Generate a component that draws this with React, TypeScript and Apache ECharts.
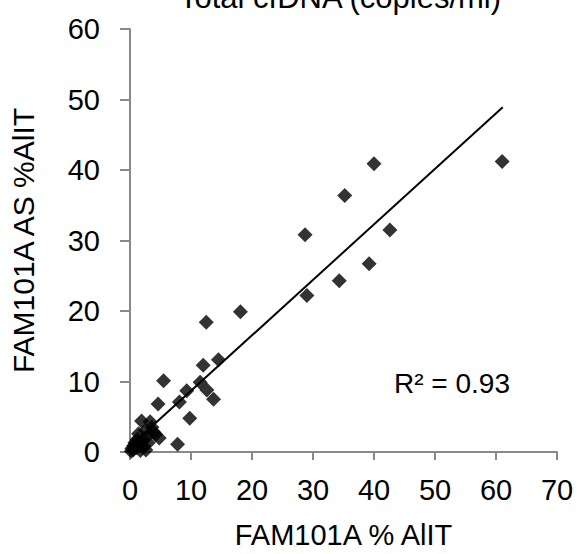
import React, { useEffect, useRef } from "react";
import * as echarts from "echarts";

const xValues = [
  61.0, 40.0, 35.2, 28.7, 42.6, 39.2, 34.3, 29.0, 18.1, 12.5,
  14.5, 12.0, 5.5, 11.5, 12.6, 13.7, 9.3, 8.1, 4.6, 9.8, 7.8, 4.2, 4.8,
  1.9, 3.3, 2.5, 3.6, 2.8, 2.0, 1.5, 1.0, 0.5, 0.2, 1.2, 2.2, 3.0, 0.8, 0.3, 1.7,
  0.6, 1.4, 2.6, 3.8,
];
const yValues = [
  41.2, 40.9, 36.4, 30.8, 31.5, 26.7, 24.3, 22.2, 19.9, 18.4,
  13.1, 12.3, 10.1, 9.9, 8.8, 7.5, 8.7, 7.1, 6.8, 4.8, 1.1, 2.5, 2.0,
  4.4, 4.3, 3.0, 3.5, 2.2, 1.6, 1.0, 0.6, 0.3, 0.1, 1.8, 0.8, 1.3, 1.3, 0.5, 0.2,
  0.9, 2.6, 0.3, 2.9,
];
const trendX = [0, 61.1];
const trendY = [0.8, 48.9];
const xTicks = [0, 70, 10];
const yTicks = [0, 60, 10];
const titleText = "Total cfDNA (copies/ml)";
const xName = "FAM101A % AlIT";
const yName = "FAM101A AS %AlIT";
const r2Text = "R² = 0.93";

export default function App() {
  const ref = useRef<HTMLDivElement>(null);
  useEffect(() => {
    if (!ref.current) return;
    const chart = echarts.init(ref.current, undefined, { renderer: "svg" });
    const font = "Liberation Sans, Arial, sans-serif";
    const axisColor = "#898989";
    chart.setOption({
      animation: false,
      textStyle: { fontFamily: font },
      grid: { left: 130, right: 20, top: 29, bottom: 100 },
      xAxis: {
        type: "value",
        min: xTicks[0],
        max: xTicks[1],
        interval: xTicks[2],
        splitLine: { show: false },
        axisLine: { show: true, lineStyle: { color: axisColor, width: 2 } },
        axisTick: { show: true, length: 8, lineStyle: { color: axisColor, width: 2 } },
        axisLabel: { color: "#000", fontSize: 29, margin: 23, fontFamily: font },
        name: xName,
        nameLocation: "middle",
        nameGap: 68,
        nameTextStyle: { color: "#000", fontSize: 29, fontFamily: font },
      },
      yAxis: {
        type: "value",
        min: yTicks[0],
        max: yTicks[1],
        interval: yTicks[2],
        splitLine: { show: false },
        axisLine: { show: true, lineStyle: { color: axisColor, width: 2 } },
        axisTick: { show: true, length: 10, lineStyle: { color: axisColor, width: 2 } },
        axisLabel: { color: "#000", fontSize: 29, margin: 30, fontFamily: font },
        name: yName,
        nameLocation: "middle",
        nameGap: 92,
        nameRotate: 90,
        nameTextStyle: { color: "#000", fontSize: 30, fontFamily: font },
      },
      series: [
        {
          type: "line",
          data: trendX.map((x, i) => [x, trendY[i]]),
          showSymbol: false,
          symbol: "none",
          lineStyle: { color: "#000", width: 2 },
          z: 3,
        },
        {
          type: "scatter",
          data: xValues.map((x, i) => [x, yValues[i]]),
          symbol: "diamond",
          symbolSize: 15,
          itemStyle: { color: "#000" },
          z: 2,
        },
      ],
      graphic: [
        {
          type: "text",
          x: 340,
          y: 13,
          style: {
            text: titleText,
            fontSize: 31,
            fontFamily: font,
            fill: "#000",
            align: "center",
            verticalAlign: "bottom",
          },
        },
        {
          type: "text",
          x: 452,
          y: 383,
          style: {
            text: r2Text,
            fontSize: 28,
            fontFamily: font,
            fill: "#000",
            align: "center",
            verticalAlign: "middle",
          },
        },
      ],
    });
    return () => chart.dispose();
  }, []);
  return (
    <div
      ref={ref}
      style={{ position: "fixed", left: 0, top: 0, width: 577, height: 554, background: "#fff" }}
    />
  );
}
